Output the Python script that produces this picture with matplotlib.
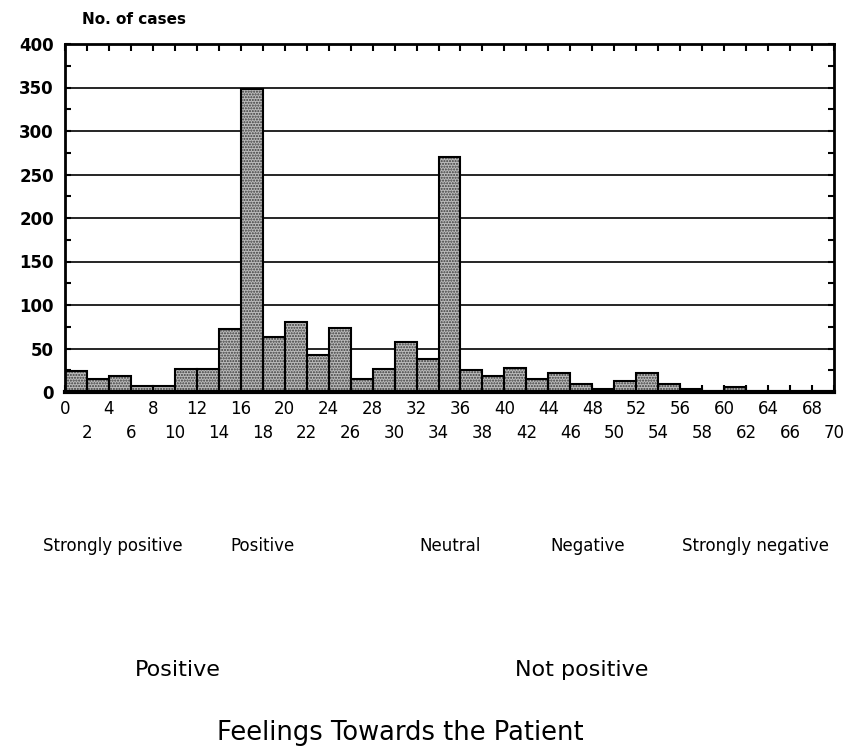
import matplotlib.pyplot as plt
import numpy as np

# bin left edges (width 2) and counts
bin_left = np.arange(0, 70, 2)
cases = [24, 15, 18, 7, 7, 27, 27, 72, 348, 63, 80, 42, 73, 15, 27, 58, 38, 270,
         25, 18, 28, 15, 22, 9, 4, 13, 22, 9, 4, 0, 6, 0, 0, 0, 0]

feel_labels = ["Strongly positive", "Positive", "Neutral", "Negative", "Strongly negative"]
feel_x = [113, 262, 450, 588, 756]
group_labels = ["Positive", "Not positive"]
group_x = [178, 582]

plt.rcParams["font.family"] = "DejaVu Sans"

fig = plt.figure(figsize=(8.49, 7.51), dpi=100)
ax = fig.add_axes([65 / 849, 1 - 392 / 751, (834 - 65) / 849, (392 - 44) / 751])

ax.bar(bin_left, cases, width=2, align="edge", color="#bcbcbc", edgecolor="#3a3a3a",
       hatch="......", linewidth=0, zorder=2)
ax.bar(bin_left, cases, width=2, align="edge", fill=False, edgecolor="black",
       linewidth=1.5, zorder=3)

ax.set_xlim(0, 70)
ax.set_ylim(0, 400)
ax.set_yticks(np.arange(0, 401, 50))
ax.set_yticks(np.arange(0, 401, 25), minor=True)
ax.grid(axis="y", color="black", linewidth=1.2, zorder=0)
ax.set_axisbelow(True)

ax.set_xticks(np.arange(0, 69, 4))
ax.set_xticklabels([str(v) for v in range(0, 69, 4)])
ax.set_xticks(np.arange(2, 71, 4), minor=True)
ax.set_xticklabels([str(v) for v in range(2, 71, 4)], minor=True)
ax.tick_params(axis="x", which="major", direction="in", length=5, width=1.5,
               top=True, pad=6, labelsize=12)
ax.tick_params(axis="x", which="minor", direction="in", length=5, width=1.5,
               top=True, pad=23, labelsize=12)
ax.tick_params(axis="y", which="both", direction="in", length=4, width=1.5,
               right=True, labelsize=12, pad=8)
for lab in ax.get_yticklabels():
    lab.set_fontweight("bold")

for side in ["top", "left", "right"]:
    ax.spines[side].set_linewidth(2)
ax.spines["bottom"].set_linewidth(3)

fig.text(82 / 849, 1 - 20 / 751, "No. of cases", fontsize=11, fontweight="bold",
         ha="left", va="center")

for label, x in zip(feel_labels, feel_x):
    fig.text(x / 849, 1 - 546 / 751, label, fontsize=12, ha="center", va="center")
for label, x in zip(group_labels, group_x):
    fig.text(x / 849, 1 - 670 / 751, label, fontsize=16, ha="center", va="center")
fig.text(400 / 849, 1 - 733 / 751, "Feelings Towards the Patient", fontsize=18.5,
         ha="center", va="center")

fig.savefig("out.png", dpi=100)
